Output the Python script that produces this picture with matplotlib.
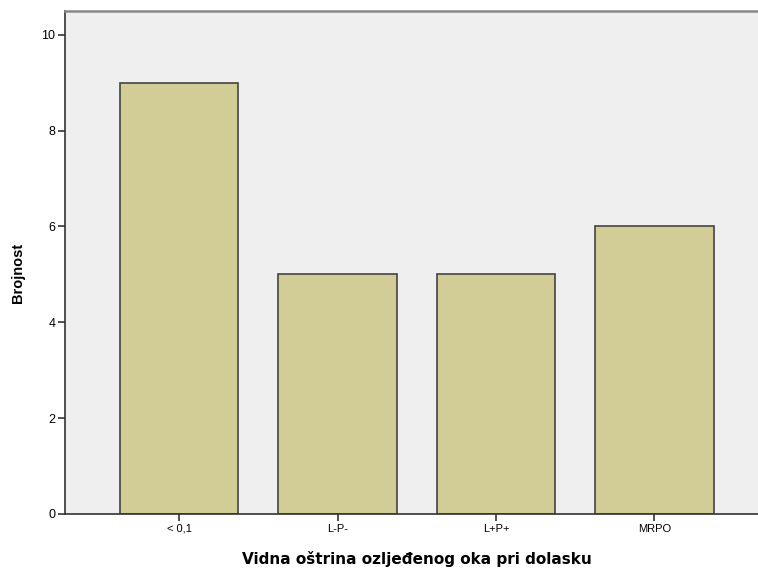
import numpy as np
import matplotlib
matplotlib.use('Agg')
from matplotlib import pyplot as plt

categories = ['< 0,1', 'L-P-', 'L+P+', 'MRPO']
counts = [9, 5, 5, 6]
yticks = [0, 2, 4, 6, 8, 10]

fig = plt.figure(figsize=(7.58, 5.68), dpi=100)
# axes runs a bit past the right edge, as in the original crop
ax = fig.add_axes([0.0858, 0.0951, 0.928, 0.886])
ax.set_facecolor('#efefef')

x = np.arange(len(categories))
ax.bar(x, counts, width=0.747, color='#d2cd96', edgecolor='#444444', linewidth=1.2)

ax.set_xlim(-0.72, 3.72)
ax.set_ylim(0, 10.5)
ax.set_xticks(x)
ax.set_xticklabels(categories, fontsize=8, family='Liberation Sans')
ax.set_yticks(yticks)
ax.set_yticklabels([str(t) for t in yticks], fontsize=9, family='Liberation Sans')
ax.tick_params(direction='out', length=5, width=1.2, color='#333333', pad=2)

ax.spines['left'].set_color('#333333')
ax.spines['left'].set_linewidth(1.2)
ax.spines['bottom'].set_color('#333333')
ax.spines['bottom'].set_linewidth(1.2)
ax.spines['top'].set_color('#888888')
ax.spines['top'].set_linewidth(1.8)
ax.spines['right'].set_visible(False)

# axis titles placed in pixels-ish like the SPSS output
fig.text(18.5 / 758, 1 - 273 / 568, 'Brojnost', rotation=90, ha='center', va='center',
         fontsize=10.5, fontweight='bold', family='Liberation Sans')
fig.text(417 / 758, 1 - 559 / 568, 'Vidna oštrina ozljeđenog oka pri dolasku',
         ha='center', va='center', fontsize=11, fontweight='bold')

plt.savefig('out.png', dpi=100)
